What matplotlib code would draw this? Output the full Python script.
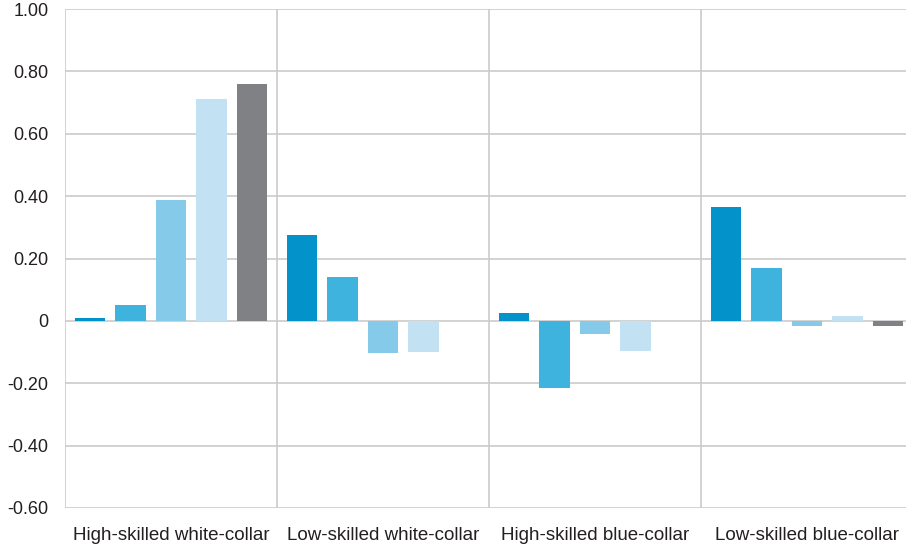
import numpy as np
import matplotlib
matplotlib.use("Agg")
import matplotlib.pyplot as plt

plt.rcParams['font.family'] = ['Liberation Sans', 'DejaVu Sans']

# groups and the five series per group
groups = ["High-skilled white-collar", "Low-skilled white-collar",
          "High-skilled blue-collar", "Low-skilled blue-collar"]
serie_1 = [0.010, 0.274, 0.026, 0.365]
serie_2 = [0.052, 0.142, -0.216, 0.171]
serie_3 = [0.387, -0.102, -0.041, -0.016]
serie_4 = [0.713, -0.099, -0.096, 0.016]
serie_5 = [0.758, 0.0, 0.0, -0.016]
y_ticks = [-0.6, -0.4, -0.2, 0, 0.2, 0.4, 0.6, 0.8, 1.0]
y_labels = ["-0.60", "-0.40", "-0.20", "0", "0.20", "0.40", "0.60", "0.80", "1.00"]

cores = ["#0392C9", "#3DB3DD", "#86CAE9", "#C2E2F3", "#808184"]
series = [serie_1, serie_2, serie_3, serie_4, serie_5]

fig = plt.figure(figsize=(9.06, 5.5), dpi=100)
ax = fig.add_axes([65/906, 42/550, (906-65)/906, (508-9)/550])

grid_cor = "#CBCBCB"
pos = np.arange(len(groups))
passo = 0.191
largura = 0.146
for k, (vals, cor) in enumerate(zip(series, cores)):
    x = pos + 0.5 + (k - 2) * passo
    ax.bar(x, vals, width=largura, color=cor, zorder=3)

ax.set_xlim(0, (906-65)/212)
ax.set_ylim(-0.6, 1.0)
ax.set_yticks(y_ticks)
ax.set_yticklabels(y_labels, fontsize=13, color="#231F20")
ax.set_xticks(pos + 0.5)
ax.set_xticklabels(groups, fontsize=13.5, color="#231F20")
ax.tick_params(length=0)
ax.tick_params(axis='y', pad=12)
ax.tick_params(axis='x', pad=14)

# linhas de grade
for y in y_ticks:
    ax.axhline(y, color=grid_cor, lw=1.2, zorder=1)
for g in range(len(groups) + 1):
    ax.axvline(g, color=grid_cor, lw=1.2, zorder=1)
for s in ax.spines.values():
    s.set_visible(False)

fig.savefig("out.png", dpi=100)
